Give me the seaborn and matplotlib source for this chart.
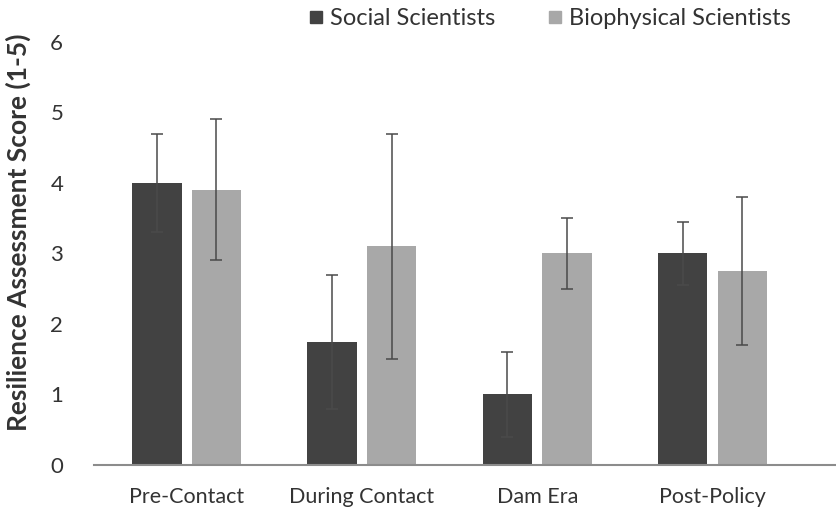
import matplotlib
matplotlib.use("Agg")
import matplotlib.pyplot as plt
import seaborn as sns
import pandas as pd
import numpy as np

categories = ["Pre-Contact", "During Contact", "Dam Era", "Post-Policy"]
groups = ["Social Scientists", "Biophysical Scientists"]
social_mean = [4.0, 1.75, 1.0, 3.0]
social_err = [0.7, 0.95, 0.6, 0.45]
bio_mean = [3.9, 3.1, 3.0, 2.75]
bio_err = [1.0, 1.6, 0.5, 1.05]
yticks = [0, 1, 2, 3, 4, 5, 6]

sns.set_theme(style="white")
plt.rcParams["font.family"] = ["Lato", "DejaVu Sans"]

df = pd.DataFrame({
    "Period": categories * 2,
    "Group": [groups[0]] * 4 + [groups[1]] * 4,
    "Score": social_mean + bio_mean,
    "Err": social_err + bio_err,
})

colors = {"Social Scientists": "#424242", "Biophysical Scientists": "#a8a8a8"}

fig = plt.figure(figsize=(8.37, 5.23), dpi=100)
ax = fig.add_axes([0.112, 0.111, 0.888, 0.809])

sns.barplot(data=df, x="Period", y="Score", hue="Group", order=categories,
            hue_order=groups, palette=colors, width=0.68, gap=0.17,
            errorbar=None, ax=ax, saturation=1, linewidth=0)

# error bars at bar centres
for patch_group, g in zip(ax.containers, groups):
    sub = df[df["Group"] == g].set_index("Period").loc[categories]
    xs = [p.get_x() + p.get_width() / 2 for p in patch_group]
    ax.errorbar(xs, sub["Score"].values, yerr=sub["Err"].values, fmt="none",
                ecolor="#4a4a4a", elinewidth=1.1, capsize=4.5, capthick=1.1)

ax.set_xlim(-0.53, 3.71)
ax.set_ylim(0, 6)
ax.set_yticks(yticks)
ax.set_yticklabels([str(t) for t in yticks], fontsize=16, color="#333333")
ax.tick_params(axis="x", labelsize=15.5, colors="#333333", pad=16, length=0)
ax.tick_params(axis="y", pad=22, length=0)
ax.set_xlabel("")
ax.set_ylabel("Resilience Assessment Score (1-5)", fontsize=19,
              fontweight="bold", color="#333333")
ax.yaxis.set_label_coords(-0.084, 0.55)
for s in ["top", "right", "left"]:
    ax.spines[s].set_visible(False)
ax.spines["bottom"].set_color("#8c8c8c")
ax.spines["bottom"].set_linewidth(1.5)

ax.legend_.remove()
handles = [plt.Line2D([], [], marker="s", linestyle="none", markersize=8,
                      markerfacecolor=colors[g], markeredgecolor=colors[g]) for g in groups]
fig.legend(handles, groups, loc="center", bbox_to_anchor=(0.657, 0.965), ncol=2,
           frameon=False, fontsize=17, handlelength=0.6, handletextpad=0.3,
           columnspacing=2.2, labelcolor="#333333", borderaxespad=0)

fig.savefig("out.png", dpi=100)
